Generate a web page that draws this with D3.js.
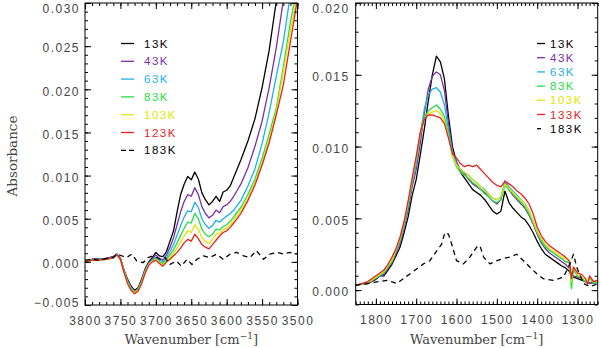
<!DOCTYPE html>
<html>
<head>
<meta charset="utf-8">
<script src="https://cdn.jsdelivr.net/npm/d3@7"></script>
<style>
  body { margin: 0; background: #fff; }
  svg { display: block; }
  .tick text { font-family: "Liberation Sans", Arial, sans-serif; font-size: 12px; fill: #444; letter-spacing: 1.5px; }
  .title { font-family: "DejaVu Serif", serif; font-size: 13px; fill: #444; }
  .legend text { font-family: "Liberation Sans", Arial, sans-serif; font-size: 11.5px; letter-spacing: 1.5px; }
</style>
</head>
<body>
<div id="container"></div>
<script>
"use strict";

// Absorbance values are in units of 1e-3.

// O-H stretch region (left panel)
const ohWave = [3800, 3790, 3780, 3770, 3760, 3755, 3750, 3745, 3740, 3735, 3730, 3725, 3720, 3715, 3710,
  3705, 3700, 3695, 3690, 3685, 3680, 3675, 3670, 3665, 3660,
  3655, 3650, 3645, 3640, 3635, 3630, 3625, 3620, 3615, 3610,
  3605, 3600, 3595, 3590, 3580, 3570, 3560, 3550, 3540, 3530,
  3520, 3510, 3500];
const oh13K = [0.0, 0.3, 0.3, 0.4, 0.6, 0.9, 0.4, -0.9, -2.0, -2.8, -3.3, -3.0, -2.0, -0.8, 0.0,
  0.5, 1.1, 0.7, 0.6, 1.2, 2.4, 3.6, 5.8, 7.8, 9.0,
  9.9, 9.5, 10.4, 9.6, 8.0, 7.2, 6.6, 7.0, 7.6, 7.0,
  8.1, 8.3, 8.8, 9.8, 11.8, 14.0, 16.6, 20.2, 24.5, 30.2,
  null, null, null];
const oh43K = [0.0, 0.3, 0.3, 0.4, 0.6, 0.9, 0.4, -1.0, -2.1, -2.9, -3.4, -3.1, -2.1, -0.9, -0.1,
  0.3, 0.8, 0.4, 0.2, 0.8, 1.7, 2.8, 4.3, 5.8, 7.0,
  7.8, 7.6, 8.6, 7.8, 6.4, 5.6, 5.1, 5.4, 6.0, 5.7,
  6.4, 6.6, 7.0, 7.6, 9.0, 10.9, 13.4, 16.3, 20.2, 24.8,
  30.3, null, null];
const oh63K = [0.0, 0.2, 0.3, 0.3, 0.5, 0.8, 0.3, -1.0, -2.2, -3.0, -3.5, -3.2, -2.2, -1.0, -0.2,
  0.2, 0.5, 0.2, 0.0, 0.5, 1.2, 2.0, 3.1, 4.2, 5.2,
  5.9, 5.8, 6.9, 6.3, 5.0, 4.3, 3.9, 4.2, 4.8, 4.6,
  5.0, 5.3, 5.6, 6.0, 7.1, 8.8, 10.8, 13.7, 17.3, 21.5,
  25.5, 31.0, null];
const oh83K = [0.0, 0.2, 0.2, 0.3, 0.5, 0.8, 0.3, -1.1, -2.3, -3.1, -3.5, -3.2, -2.3, -1.1, -0.3,
  0.1, 0.4, 0.0, -0.2, 0.3, 0.8, 1.4, 2.2, 3.1, 3.9,
  4.6, 4.5, 5.6, 5.0, 3.8, 3.2, 2.9, 3.2, 3.8, 3.7,
  4.1, 4.3, 4.7, 5.2, 6.3, 7.8, 9.6, 12.0, 14.8, 17.8,
  22.6, 27.8, 32.0];
const oh103K = [0.0, 0.2, 0.2, 0.3, 0.5, 0.8, 0.3, -1.1, -2.4, -3.2, -3.6, -3.3, -2.4, -1.2, -0.3,
  0.1, 0.3, -0.1, -0.4, 0.1, 0.5, 1.0, 1.6, 2.3, 3.0,
  3.6, 3.4, 4.3, 3.8, 2.8, 2.4, 2.1, 2.6, 3.2, 3.3,
  3.7, 3.9, 4.3, 4.8, 5.9, 7.4, 9.2, 11.5, 14.2, 17.4,
  22.0, 26.8, 31.0];
const oh123K = [0.0, 0.2, 0.2, 0.3, 0.5, 0.8, 0.3, -1.2, -2.5, -3.3, -3.7, -3.4, -2.5, -1.3, -0.4,
  0.0, 0.2, -0.2, -0.5, 0.0, 0.3, 0.7, 1.1, 1.6, 2.2,
  2.6, 2.4, 3.2, 2.7, 2.0, 1.7, 1.5, 2.0, 2.5, 3.0,
  3.4, 3.6, 4.0, 4.5, 5.6, 7.1, 8.9, 11.2, 13.8, 17.0,
  20.5, 25.5, 30.5];
const ohWave183K = [3800, 3790, 3780, 3770, 3760, 3755, 3748, 3741, 3734, 3727,
  3718, 3711, 3704, 3694, 3687, 3680, 3671, 3664, 3656, 3649,
  3642, 3633, 3624, 3614, 3605, 3595, 3586, 3576, 3567, 3558,
  3548, 3539, 3529, 3520, 3511, 3501];
const oh183K = [0.2, 0.3, 0.2, 0.4, 0.5, 0.9, 0.7, 0.5, 0.9, 0.1,
  -0.1, 0.5, 0.7, 0.3, 0.5, -0.3, 0.1, -0.5, 0.3, -0.3,
  0.3, 0.7, 0.5, 0.9, 0.3, 0.9, 1.1, 0.7, 0.5, 1.3,
  0.3, 0.9, 1.1, 0.9, 1.1, 0.9];

// bending region (right panel)
const bendWave = [1850, 1840, 1830, 1820, 1810, 1800, 1790, 1780, 1770, 1760, 1750,
  1740, 1730, 1720, 1710, 1700, 1690, 1680, 1670, 1660, 1650,
  1640, 1630, 1620, 1610, 1600, 1590, 1580, 1570, 1560, 1550,
  1540, 1530, 1520, 1510, 1500, 1490, 1480, 1470, 1460, 1450,
  1440, 1430, 1420, 1410, 1400, 1390, 1380, 1370, 1360, 1350,
  1340, 1330, 1320, 1315, 1310, 1300, 1290, 1280, 1275, 1270, 1260, 1250];
const bend13K = [0.34, 0.40, 0.42, 0.45, 0.60, 0.75, 1.0, 1.0, 1.4, 1.8, 2.4,
  3.0, 4.0, 5.1, 6.6, 7.7, 9.4, 11.2, 13.2, 15.0, 16.3,
  15.9, 14.7, 12.1, 10.0, 8.9, 8.2, 7.8, 7.4, 7.0, 6.8,
  6.6, 6.3, 5.9, 5.5, 5.3, 5.5, 6.9, 6.1, 5.7, 5.4,
  5.1, 4.9, 4.5, 4.0, 3.4, 2.9, 2.5, 2.3, 2.1, 1.9,
  1.7, 1.55, 1.3, 1.0, 0.9, 0.8, 0.7, 0.6, 0.5, 0.5, 0.5, 0.55];
const bend43K = [0.34, 0.40, 0.45, 0.50, 0.65, 0.80, 1.0, 1.1, 1.5, 1.9, 2.6,
  3.3, 4.3, 5.6, 7.2, 8.4, 10.2, 12.3, 14.0, 14.9, 15.2,
  15.0, 13.9, 11.6, 9.7, 8.9, 8.4, 8.1, 7.7, 7.4, 7.2,
  7.0, 6.8, 6.5, 6.2, 6.0, 6.3, 7.5, 7.0, 6.6, 6.3,
  6.0, 5.7, 5.2, 4.6, 3.9, 3.3, 2.9, 2.6, 2.4, 2.2,
  2.0, 1.8, 1.5, 1.1, 1.0, 0.9, 0.8, 0.6, 0.5, 0.5, 0.55, 0.6];
const bend63K = [0.34, 0.40, 0.45, 0.50, 0.65, 0.85, 1.0, 1.2, 1.6, 2.0, 2.7,
  3.4, 4.5, 5.8, 7.4, 8.8, 10.8, 12.6, 13.6, 14.0, 14.1,
  13.8, 12.9, 11.2, 9.6, 8.8, 8.4, 8.2, 8.0, 7.7, 7.5,
  7.2, 7.0, 6.7, 6.4, 6.3, 6.5, 7.6, 7.2, 6.9, 6.6,
  6.3, 6.0, 5.5, 4.8, 4.1, 3.5, 3.1, 2.8, 2.6, 2.4,
  2.2, 2.0, 1.9, 0.8, 1.4, 1.0, 0.8, 0.6, 0.5, 0.9, 0.5, 0.55];
const bend83K = [0.34, 0.40, 0.45, 0.50, 0.70, 0.85, 1.1, 1.2, 1.6, 2.0, 2.8,
  3.5, 4.6, 6.0, 7.6, 9.1, 10.9, 12.0, 12.5, 12.7, 12.9,
  12.6, 12.1, 10.9, 9.3, 8.6, 8.2, 8.0, 7.8, 7.5, 7.3,
  7.0, 6.7, 6.5, 6.2, 6.1, 6.3, 7.3, 7.0, 6.7, 6.4,
  6.1, 5.8, 5.3, 4.7, 4.0, 3.4, 3.0, 2.8, 2.6, 2.4,
  2.2, 2.0, 1.9, 0.1, 1.5, 1.0, 0.8, 0.6, 0.5, 0.8, 0.5, 0.55];
const bend103K = [0.34, 0.40, 0.45, 0.55, 0.70, 0.90, 1.1, 1.3, 1.7, 2.1, 2.8,
  3.6, 4.7, 6.1, 7.7, 9.2, 10.9, 11.9, 12.3, 12.4, 12.5,
  12.3, 11.8, 10.7, 9.3, 8.7, 8.4, 8.2, 8.0, 7.7, 7.5,
  7.2, 6.9, 6.7, 6.4, 6.3, 6.5, 7.4, 7.1, 6.8, 6.5,
  6.3, 6.0, 5.5, 4.8, 4.1, 3.6, 3.2, 2.9, 2.7, 2.5,
  2.3, 2.2, 2.1, 0.6, 1.6, 1.1, 0.9, 0.7, 0.5, 0.9, 0.6, 0.6];
const bend133K = [0.35, 0.40, 0.50, 0.60, 0.80, 1.0, 1.2, 1.4, 1.8, 2.3, 2.9,
  3.7, 4.8, 6.2, 7.8, 9.3, 11.0, 11.9, 12.2, 12.2, 12.1,
  12.0, 11.6, 10.6, 9.5, 9.2, 8.8, 8.6, 8.7, 8.6, 8.7,
  8.4, 8.1, 7.8, 7.5, 7.3, 7.2, 7.6, 7.4, 7.2, 6.9,
  6.7, 6.4, 6.0, 5.3, 4.4, 3.8, 3.4, 3.1, 2.9, 2.7,
  2.5, 2.3, 2.0, 0.8, 1.6, 1.2, 1.1, 0.8, 0.4, 1.0, 0.6, 0.7];
const bendWave183K = [1850, 1823, 1798, 1773, 1748, 1732, 1715, 1699, 1682, 1666,
  1649, 1637, 1629, 1620, 1612, 1600, 1583, 1567, 1550, 1542,
  1533, 1517, 1500, 1484, 1467, 1451, 1434, 1418, 1401, 1385,
  1360, 1335, 1319, 1310, 1302, 1285, 1269, 1250];
const bend183K = [0.34, 0.46, 0.57, 0.68, 0.46, 0.8, 1.14, 1.48, 1.83, 2.05,
  2.74, 3.2, 4.0, 3.9, 3.2, 2.05, 1.83, 2.3, 3.0, 3.1,
  2.3, 1.83, 2.05, 2.2, 2.3, 2.5, 2.05, 1.6, 1.14, 0.8,
  0.68, 0.9, 1.83, 2.5, 1.6, 0.46, 0.23, 0.46];

const ohLabels = ["13K", "43K", "63K", "83K", "103K", "123K", "183K"];
const bendLabels = ["13K", "43K", "63K", "83K", "103K", "133K", "183K"];
const seriesColors = ["#000000", "#7b2fa6", "#1cb2e6", "#26dc46", "#e4e400", "#e6221e", "#000000"];

const ohTicksX = [3800, 3750, 3700, 3650, 3600, 3550, 3500];
const ohTicksY = [-5, 0, 5, 10, 15, 20, 25, 30];
const bendTicksX = [1800, 1700, 1600, 1500, 1400, 1300];
const bendTicksY = [0, 5, 10, 15, 20];

const width = 600;
const height = 348;

const svg = d3.select("#container").append("svg").attr("width", width).attr("height", height);

function fmtAbs(d) {
  return (d / 1000).toFixed(3).replace("-", "\u2212");
}

function drawPanel(p) {
  const x = d3.scaleLinear().domain(p.xDomain).range([p.left, p.right]);
  const y = d3.scaleLinear().domain(p.yDomain).range([p.bottom, p.top]);
  const g = svg.append("g");

  g.append("clipPath").attr("id", p.id).append("rect")
    .attr("x", p.left).attr("y", p.top)
    .attr("width", p.right - p.left).attr("height", p.bottom - p.top);

  const line = d3.line()
    .defined((d) => d[1] != null)
    .x((d) => x(d[0]))
    .y((d) => y(d[1]));

  const plot = g.append("g").attr("clip-path", `url(#${p.id})`);
  p.series.forEach((s, i) => {
    plot.append("path")
      .datum(d3.zip(s.wave, s.values))
      .attr("d", line)
      .attr("fill", "none")
      .attr("stroke", seriesColors[i])
      .attr("stroke-width", 1.3)
      .attr("stroke-linejoin", "round")
      .attr("stroke-dasharray", i === 6 ? "5,4" : null);
  });

  // ticks on all four sides, pointing inward
  const addAxis = (axis, transform) =>
    g.append("g").attr("transform", transform).style("color", "#000").call(axis)
      .call((a) => a.select(".domain").remove());

  addAxis(d3.axisBottom(x).tickValues(p.minorX).tickSize(-3).tickFormat(""), `translate(0,${p.bottom})`);
  addAxis(d3.axisTop(x).tickValues(p.minorX).tickSize(-3).tickFormat(""), `translate(0,${p.top})`);
  addAxis(d3.axisLeft(y).tickValues(p.minorY).tickSize(-3).tickFormat(""), `translate(${p.left},0)`);
  addAxis(d3.axisRight(y).tickValues(p.minorY).tickSize(-3).tickFormat(""), `translate(${p.right},0)`);

  addAxis(d3.axisBottom(x).tickValues(p.ticksX).tickSize(-6).tickPadding(11).tickFormat(d3.format("d")),
    `translate(0,${p.bottom})`);
  addAxis(d3.axisTop(x).tickValues(p.ticksX).tickSize(-6).tickFormat(""), `translate(0,${p.top})`);
  addAxis(d3.axisLeft(y).tickValues(p.ticksY).tickSize(-6).tickPadding(p.yPad).tickFormat(fmtAbs),
    `translate(${p.left},0)`)
    // labels sit a little below their ticks and stay inside the picture
    .selectAll(".tick text")
    .attr("y", (d) => Math.min(Math.max(y(d) + 2, 8.5), 303) - y(d));
  addAxis(d3.axisRight(y).tickValues(p.ticksY).tickSize(-6).tickFormat(""), `translate(${p.right},0)`);

  g.append("rect")
    .attr("x", p.left).attr("y", p.top)
    .attr("width", p.right - p.left).attr("height", p.bottom - p.top)
    .attr("fill", "none").attr("stroke", "#000").attr("stroke-width", 1);

  const title = g.append("text").attr("class", "title")
    .attr("x", (p.left + p.right) / 2).attr("y", 344).attr("text-anchor", "middle");
  title.append("tspan").text("Wavenumber [cm");
  title.append("tspan").attr("dy", -5).attr("font-size", 9).text("\u22121");
  title.append("tspan").attr("dy", 5).text("]");

  // legend
  const leg = g.append("g").attr("class", "legend");
  p.labels.forEach((lab, i) => {
    const ly = p.legY + i * p.legStep;
    leg.append("line")
      .attr("x1", p.legX).attr("x2", p.legX + p.legLen)
      .attr("y1", ly).attr("y2", ly)
      .attr("stroke", seriesColors[i]).attr("stroke-width", 1.3)
      .attr("stroke-dasharray", i === 6 ? p.legDash : null);
    leg.append("text")
      .attr("x", p.legX + p.legLen + p.legGap).attr("y", ly).attr("dy", "0.36em")
      .attr("fill", seriesColors[i]).text(lab);
  });
}

drawPanel({
  id: "clip-oh",
  left: 85, right: 297.5, top: 3, bottom: 305,
  xDomain: [3800, 3500], yDomain: [-5, 30],
  ticksX: ohTicksX, ticksY: ohTicksY,
  minorX: d3.range(3500, 3801, 10), minorY: d3.range(-5, 31, 1),
  yPad: 5,
  series: [
    { wave: ohWave, values: oh13K },
    { wave: ohWave, values: oh43K },
    { wave: ohWave, values: oh63K },
    { wave: ohWave, values: oh83K },
    { wave: ohWave, values: oh103K },
    { wave: ohWave, values: oh123K },
    { wave: ohWave183K, values: oh183K }
  ],
  labels: ohLabels,
  legX: 121, legLen: 13, legGap: 10, legY: 43.5, legStep: 17.8, legDash: "5,3"
});

drawPanel({
  id: "clip-bend",
  left: 355.7, right: 597.7, top: 3, bottom: 304.5,
  xDomain: [1850, 1250], yDomain: [-1, 20],
  ticksX: bendTicksX, ticksY: bendTicksY,
  minorX: d3.range(1250, 1851, 10), minorY: d3.range(-1, 21, 1),
  yPad: 6,
  series: [
    { wave: bendWave, values: bend13K },
    { wave: bendWave, values: bend43K },
    { wave: bendWave, values: bend63K },
    { wave: bendWave, values: bend83K },
    { wave: bendWave, values: bend103K },
    { wave: bendWave, values: bend133K },
    { wave: bendWave183K, values: bend183K }
  ],
  labels: bendLabels,
  legX: 537, legLen: 8, legGap: 5, legY: 43.5, legStep: 14.2, legDash: "4,4"
});

svg.append("text").attr("class", "title")
  .attr("transform", "translate(17,156) rotate(-90)")
  .attr("text-anchor", "middle")
  .style("font-size", "13.5px")
  .text("Absorbance");
</script>
</body>
</html>
